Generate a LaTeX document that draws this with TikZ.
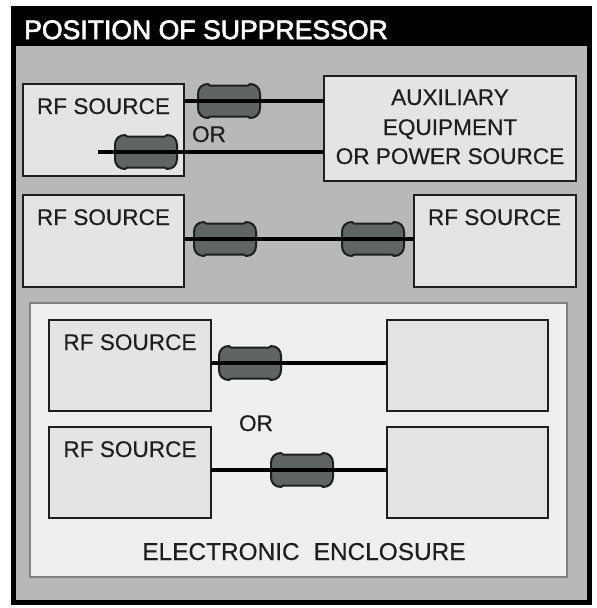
\documentclass[tikz,border=0pt]{standalone}
\usepackage{fontspec}
\setmainfont[FakeBold=0.4]{Liberation Sans}
\newfontfamily\titlefont[FakeBold=2.5]{Liberation Sans}
\definecolor{midgray}{HTML}{B7B8B8}
\definecolor{boxgray}{HTML}{E3E4E4}
\definecolor{enclgray}{HTML}{EEEFF0}
\definecolor{enclline}{HTML}{7F8282}
\definecolor{suppgray}{HTML}{5F6565}
\definecolor{inkgray}{HTML}{1E1E1E}
\tikzset{
  x=1pt,y=-1pt,
  boxnode/.style={draw=inkgray,line width=2.2pt,fill=boxgray,inner sep=0pt,outer sep=0pt,anchor=north west},
  txt/.style={font=\fontsize{22.6}{27}\selectfont,text=inkgray,anchor=base,inner sep=0pt},
  wire/.style={draw=black,line width=3.8pt},
  suppcore/.style={inner sep=0pt,outer sep=0pt,minimum width=62pt,minimum height=32pt},
  suppedge/.style={draw=inkgray,line width=2pt,fill=suppgray,line join=round},
}
\newcommand{\suppressor}[3]{%
  \node[suppcore] (#1) at (#2,#3) {};
  \draw[suppedge,shift={(#2,#3)}] (-31,-7)
    .. controls (-31,-13) and (-27,-17) .. (-21,-17)
    -- (-19,-15.5) -- (19,-15.5) -- (21,-17)
    .. controls (27,-17) and (31,-13) .. (31,-7)
    -- (31,7)
    .. controls (31,13) and (27,17) .. (21,17)
    -- (19,15.5) -- (-19,15.5) -- (-21,17)
    .. controls (-27,17) and (-31,13) .. (-31,7)
    -- cycle;
}
\begin{document}
\begin{tikzpicture}
\useasboundingbox (0,0) rectangle (597,608);
% frame
\fill[white] (0,0) rectangle (597,608);
\node[draw=black,line width=5pt,fill=midgray,minimum width=576pt,minimum height=594pt,inner sep=0pt,outer sep=0pt,anchor=north west] (frame) at (13.5,8.5) {};
\node[fill=black,minimum width=581pt,minimum height=40pt,inner sep=0pt,outer sep=0pt,anchor=north west] (titlebar) at (11,6) {};
\node[anchor=base west,inner sep=0pt,text=white,font=\fontsize{26.6}{32}\titlefont] (title) at (24,39) {POSITION OF SUPPRESSOR};
% enclosure
\node[draw=enclline,line width=2.4pt,fill=enclgray,minimum width=537pt,minimum height=274pt,inner sep=0pt,outer sep=0pt,anchor=north west] (encl) at (30,303) {};
% boxes
\node[boxnode,minimum width=161pt,minimum height=92pt] (rfa) at (23,84) {};
\node[boxnode,minimum width=252pt,minimum height=105pt] (aux) at (324,76) {};
\node[boxnode,minimum width=161pt,minimum height=92pt] (rfb) at (23,195) {};
\node[boxnode,minimum width=162pt,minimum height=92pt] (rfc) at (414,195) {};
\node[boxnode,minimum width=162pt,minimum height=91pt] (rfd) at (49,320) {};
\node[boxnode,minimum width=161pt,minimum height=91pt] (bxa) at (387,320) {};
\node[boxnode,minimum width=162pt,minimum height=91pt] (rfe) at (49,427) {};
\node[boxnode,minimum width=161pt,minimum height=91pt] (bxb) at (387,427) {};
% suppressors
\suppressor{sa}{229}{101}
\suppressor{sb}{146}{152}
\suppressor{sc}{225}{239}
\suppressor{sd}{373}{239}
\suppressor{se}{250}{363}
\suppressor{sf}{302}{470}
% connectors
\coordinate (wfree) at (98,152);
\draw[wire] (sa -| rfa.east) -- (sa -| aux.west);
\draw[wire] (wfree) -- (wfree -| aux.west);
\draw[wire] (sc -| rfb.east) -- (sc -| rfc.west);
\draw[wire] (se -| rfd.east) -- (se -| bxa.west);
\draw[wire] (sf -| rfe.east) -- (sf -| bxb.west);
% labels
\node[txt] (la) at (103.5,114) {RF SOURCE};
\node[txt] (lb) at (103.5,225) {RF SOURCE};
\node[txt] (lc) at (494.5,225) {RF SOURCE};
\node[txt] (ld) at (130,350) {RF SOURCE};
\node[txt] (le) at (130,457) {RF SOURCE};
\node[txt] (aa) at (450,105) {AUXILIARY};
\node[txt] (ab) at (450,135) {EQUIPMENT};
\node[txt] (ac) at (450,164) {OR POWER SOURCE};
\node[txt] (ora) at (209,142) {OR};
\node[txt] (orb) at (256,431) {OR};
\node[txt,font=\fontsize{24.4}{29}\selectfont] (en) at (304,560) {ELECTRONIC\hspace{0.3em} ENCLOSURE};
\end{tikzpicture}
\end{document}
